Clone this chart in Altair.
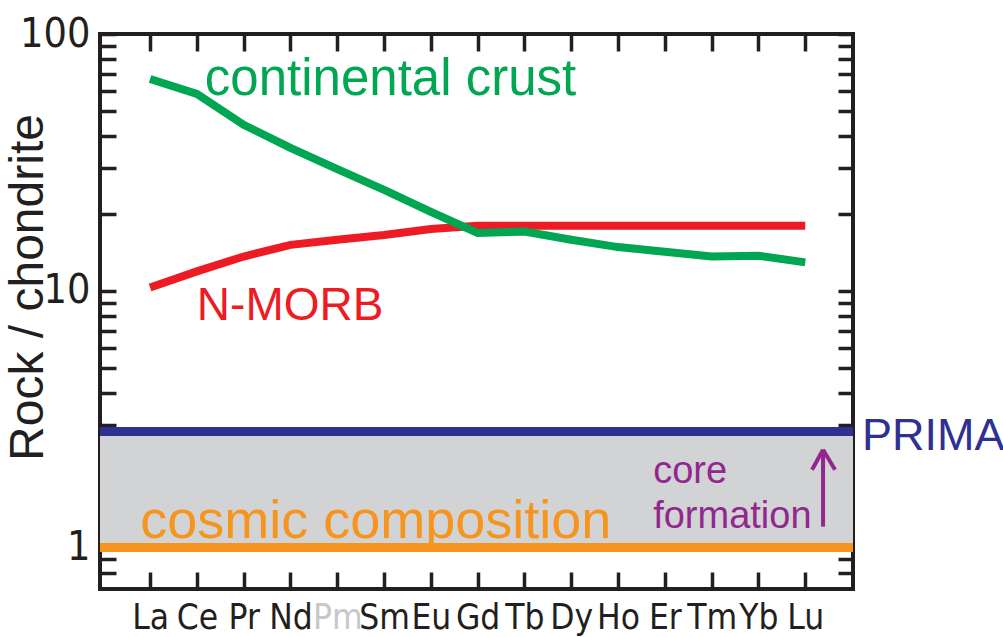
import altair as alt
import pandas as pd

# ---------------- data ----------------
elements = ["La", "Ce", "Pr", "Nd", "Pm", "Sm", "Eu", "Gd", "Tb", "Dy", "Ho", "Er", "Tm", "Yb", "Lu"]
crust = [66.8, 58.4, 44.3, 36.0, 29.8, 24.7, 20.3, 16.8, 17.0, 15.8, 14.8, 14.2, 13.6, 13.7, 12.9]
morb = [10.3, 11.9, 13.6, 15.1, 15.8, 16.5, 17.4, 17.9, 17.9, 17.9, 17.9, 17.9, 17.9, 17.9, 17.9]
prima_level = 2.83
cosmic_level = 1.0
y_ticks = [0.8, 0.9, 1, 2, 3, 4, 5, 6, 7, 8, 9, 10, 20, 30, 40, 50, 60, 70, 80, 90, 100]

label_texts = ["continental crust", "N-MORB", "cosmic composition", "PRIMA", "core", "formation"]
label_x = [1.17, 1.0, -0.21, 15.21, 10.75, 10.75]
label_y = [57.9, 7.71, 1.094, 2.406, 1.79, 1.196]
label_colors = ["#00a651", "#ed1c24", "#f7941d", "#2e3192", "#92278f", "#92278f"]
label_sizes = [51, 46, 54, 45, 38, 38]

arrow_x = [14.38, 14.145, 14.637]
arrow_x2 = [14.38, 14.38, 14.38]
arrow_y = [1.207, 2.011, 2.011]
arrow_y2 = [2.406, 2.406, 2.406]

GREEN, RED, BLUE, ORANGE, PURPLE = "#00a651", "#ed1c24", "#2e3192", "#f7941d", "#92278f"
BAND = "#d1d3d4"
INK = "#231f20"
FONT = "Liberation Sans, Arial, sans-serif"
NARROW = "Liberation Sans Narrow, DejaVu Sans Condensed, Liberation Sans, sans-serif"

idx = list(range(len(elements)))
df_crust = pd.DataFrame({"idx": idx, "value": crust})
df_morb = pd.DataFrame({"idx": idx, "value": morb})
df_levels = pd.DataFrame({"value": [prima_level, cosmic_level], "c": [BLUE, ORANGE]})
df_band = pd.DataFrame({"lo": [cosmic_level], "hi": [prima_level]})
df_text = pd.DataFrame({"text": label_texts, "x": label_x, "y": label_y,
                        "c": label_colors, "s": label_sizes})
df_arrow = pd.DataFrame({"x": arrow_x, "x2": arrow_x2, "y": arrow_y, "y2": arrow_y2})

xs = alt.Scale(domain=[-1.07, 15.02], nice=False, zero=False)
ys = alt.Scale(type="log", domain=[0.69, 100], nice=False)

name_expr = "[" + ",".join(f"'{e}'" for e in elements) + "][datum.value]"

bottom_axis = alt.Axis(
    orient="bottom", values=idx, labelExpr=name_expr, tickSize=17, offset=-17,
    domain=False, grid=False, tickColor=INK, tickWidth=3.5, labelFont=NARROW,
    labelFontSize=35, labelColor={"expr": "datum.value == 4 ? '#c7c8ca' : '#231f20'"},
    labelPadding=11, labelOverlap=False, labelFlush=False, title=None,
)
top_axis = alt.Axis(
    orient="top", values=idx, labels=False, tickSize=17, offset=-17, domain=False,
    grid=False, tickColor=INK, tickWidth=3.5, title=None,
)
left_axis = alt.Axis(
    orient="left", values=y_ticks, format="d",
    labelExpr="datum.value == 1 || datum.value == 10 || datum.value == 100 ? datum.label : ''",
    tickSize=16, offset=-16, domain=False, grid=False, tickColor=INK, tickWidth=3.5,
    labelFont=NARROW, labelFontSize=41, labelColor=INK, labelPadding=10,
    labelOverlap=False, labelFlush=False,
    title="Rock / chondrite", titleFont=FONT, titleFontSize=48, titleFontWeight="normal",
    titleColor=INK, titleX=-88, titleY=253, titleAngle=-90, titleBaseline="middle",
)
right_axis = alt.Axis(
    orient="right", values=y_ticks, labels=False, tickSize=15, offset=-15, domain=False,
    grid=False, tickColor=INK, tickWidth=3.5, title=None,
)

band = alt.Chart(df_band).mark_rect(color=BAND).encode(
    y=alt.Y("lo:Q", scale=ys, axis=None), y2="hi:Q"
)
levels = alt.Chart(df_levels).mark_rule(strokeWidth=9).encode(
    y=alt.Y("value:Q", scale=ys, axis=None), color=alt.Color("c:N", scale=None)
)
red_line = alt.Chart(df_morb).mark_line(color=RED, strokeWidth=8).encode(
    x=alt.X("idx:Q", scale=xs, axis=bottom_axis),
    y=alt.Y("value:Q", scale=ys, axis=left_axis),
)
green_line = alt.Chart(df_crust).mark_line(color=GREEN, strokeWidth=8).encode(
    x=alt.X("idx:Q", scale=xs, axis=None),
    y=alt.Y("value:Q", scale=ys, axis=None),
)
arrow = alt.Chart(df_arrow).mark_rule(color=PURPLE, strokeWidth=4).encode(
    x=alt.X("x:Q", scale=xs, axis=None), x2="x2:Q",
    y=alt.Y("y:Q", scale=ys, axis=None), y2="y2:Q",
)
texts = alt.Chart(df_text).mark_text(align="left", baseline="alphabetic", font=FONT).encode(
    x=alt.X("x:Q", scale=xs, axis=top_axis),
    y=alt.Y("y:Q", scale=ys, axis=right_axis),
    text="text:N",
    color=alt.Color("c:N", scale=None),
    size=alt.Size("s:Q", scale=None),
)

chart = (
    alt.layer(band, levels, red_line, green_line, arrow, texts)
    .resolve_axis(x="independent", y="independent")
    .properties(
        width=753, height=555,
        autosize=alt.AutoSizeParams(type="none"),
        padding={"left": 100, "top": 34, "right": 150, "bottom": 48},
        background="white",
    )
    .configure_view(stroke=INK, strokeWidth=4)
)

chart.save("out.html", embed_options={"renderer": "svg", "actions": False})
